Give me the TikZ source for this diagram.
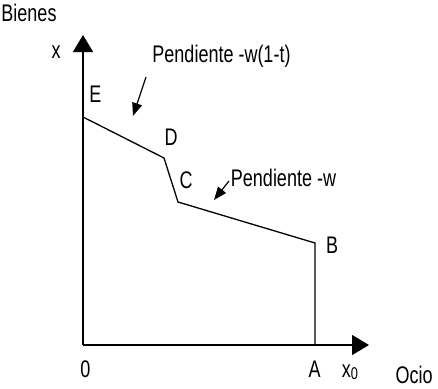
\documentclass[tikz,border=0pt]{standalone}
\usepackage{fontspec}
\setmainfont{Liberation Sans}[FakeStretch=0.75]
\usetikzlibrary{arrows.meta,positioning}
\tikzset{
  lbl/.style={inner sep=0pt, anchor=base, font=\fontsize{24}{26}\selectfont},
  axisarr/.style={-{Triangle[width=20pt,length=17pt]}, line width=1.2pt},
  curve/.style={line width=1.3pt, line join=miter},
  notearr/.style={-{Triangle[width=10pt,length=13pt]}, line width=1.2pt}
}

\begin{document}
\begin{tikzpicture}[x=1pt,y=-1pt]
    \useasboundingbox (0,0) rectangle (438,388);
    % ejes
    \coordinate (O) at (83,345);
    \coordinate (ytop) at (83,35);
    \coordinate (xend) at (369,345);
    \draw[axisarr] (O) -- (ytop);
    \draw[axisarr] (O) -- (xend);
    % restriccion presupuestaria
    \coordinate (E) at (83,117);
    \coordinate (D) at (164,158);
    \coordinate (C) at (178,202);
    \coordinate (B) at (315,243);
    \coordinate (A) at (315,345);
    \draw[curve] (E) -- (D) -- (C) -- (B) -- (A);
    % etiquetas (posicion de la linea base)
    \node[lbl] (bienes) at (29,21) {Bienes};
    \node[lbl] (xlab) at (56,58) {x};
    \node[lbl] (lE) at (95.5,102) {E};
    \node[lbl] (lD) at (171,145) {D};
    \node[lbl] (lC) at (186,188) {C};
    \node[lbl] (lB) at (332,253) {B};
    \node[lbl] (l0) at (85.5,377) {0};
    \node[lbl] (lA) at (314.5,377) {A};
    \node[lbl] (lx0) at (350,377) {x{\fontsize{17}{18}\selectfont\raisebox{-2.5pt}{0}}};
    \node[lbl] (ocio) at (414,383) {Ocio};
    \node[lbl] (p1) at (221.5,62) {Pendiente -w(1-t)};
    \node[lbl] (p2) at (283.5,186) {Pendiente -w};
    % flechas de pendiente
    \coordinate (p1a) at (146,77);
    \coordinate (p1b) at (133,116);
    \coordinate (p2a) at (229,181);
    \coordinate (p2b) at (214,200);
    \draw[notearr] (p1a) -- (p1b);
    \draw[notearr] (p2a) -- (p2b);
\end{tikzpicture}
\end{document}
